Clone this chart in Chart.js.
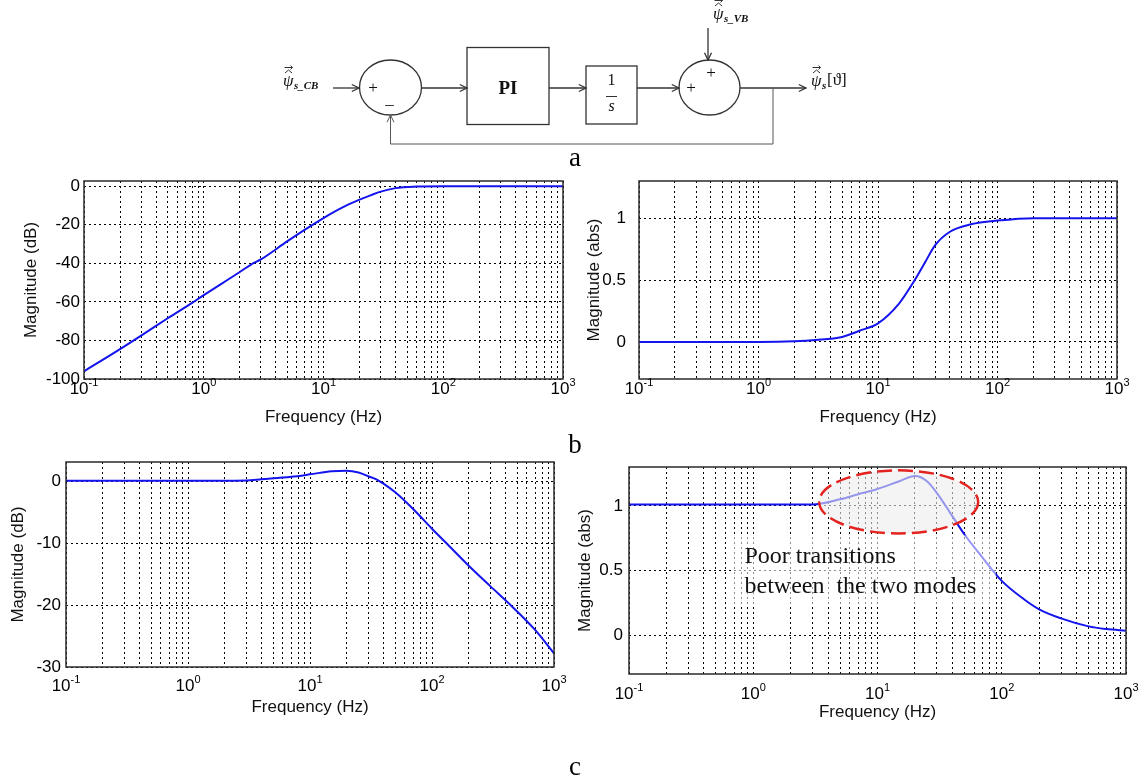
<!DOCTYPE html>
<html>
<head>
<meta charset="utf-8">
<title>Flux observer – closed-loop frequency response</title>
<script src="https://cdn.jsdelivr.net/npm/chart.js@4.4.1/dist/chart.umd.min.js"></script>
<style>
  body { margin: 0; background: #fff; }
  #page { position: relative; width: 1141px; height: 781px; overflow: hidden; background: #fff; }
  #page canvas { position: absolute; left: 0; top: 0; }
</style>
</head>
<body>
<div id="page">
  <canvas id="sketch" width="1141" height="781"></canvas>
  <canvas id="bDb" width="1141" height="781"></canvas>
  <canvas id="bAbs" width="1141" height="781"></canvas>
  <canvas id="cDb" width="1141" height="781"></canvas>
  <canvas id="cAbs" width="1141" height="781"></canvas>
</div>
<script>
// ---------- readings (Hz / dB / abs) ----------

// b: current-model branch through the PI loop
const freqB_dB = [0.1, 0.2, 0.3, 0.5, 0.8, 1, 2, 2.5, 3, 5, 7, 10, 15, 20, 25, 30, 40, 60, 100, 1000];
const magB_dB = [-96, -84.5, -77.5, -68.5, -60.5, -56.5, -44.5, -40.5, -38, -28.5, -22.5, -16.5, -10.5, -7, -4.6, -2.8, -1, -0.2, 0, 0];

const freqB_abs = [0.1, 1, 2, 3, 5, 7, 10, 15, 20, 25, 30, 40, 60, 100, 200, 1000];
const magB_abs = [0, 0, 0.005, 0.015, 0.04, 0.09, 0.15, 0.31, 0.49, 0.65, 0.78, 0.89, 0.95, 0.98, 1, 1];

// c: voltage-model branch
const freqC_dB = [0.1, 1, 3, 4, 7, 10, 15, 20, 25, 30, 35, 40, 50, 70, 100, 129, 200, 300, 442, 700, 1000];
const magC_dB = [0.15, 0.15, 0.2, 0.4, 0.8, 1.2, 1.7, 1.8, 1.5, 0.9, 0.4, -0.3, -1.7, -4.4, -7.6, -9.8, -13.6, -16.9, -20, -24, -27.8];

const freqC_abs = [0.1, 3, 5, 7, 10, 15, 20, 25, 30, 40, 50, 70, 100, 150, 200, 300, 500, 700, 1000];
const magC_abs = [1.01, 1.01, 1.05, 1.09, 1.13, 1.19, 1.23, 1.19, 1.1, 0.92, 0.78, 0.6, 0.42, 0.28, 0.2, 0.13, 0.068, 0.047, 0.034];

// axis ticks
const decadeExp = [-1, 0, 1, 2, 3];
const mantissas = [1, 2, 3, 4, 5, 6, 7, 8, 9];
const ticksB_dB = [-100, -80, -60, -40, -20, 0];
const ticksC_dB = [-30, -20, -10, 0];
const ticksAbs = [0, 0.5, 1];

// annotation on c (abs): ring centre [Hz, abs], half-span [decades, abs]
const ringCentre = [14.8, 1.03];
const ringSpan = [0.64, 0.244];
const noteBand = [0.67, 89.5, 0.772, 0.226];   // Hz from, Hz to, abs top, abs bottom
const noteAt = [0.85, 0.561];
const noteLines = ['Poor transitions', 'between  the two modes'];

// ---------- shared styling ----------
const W = 1141, H = 781;
const SANS = '"Liberation Sans", Arial, Helvetica, sans-serif';
const SERIF = '"Liberation Serif", "Times New Roman", Times, serif';
const axisFont = { family: SANS, size: 17 };
const LINE_H = 17 * 1.2;

const gridFreqs = decadeExp.flatMap(n =>
  n < 3 ? mantissas.map(m => +(m * Math.pow(10, n)).toPrecision(3)) : [Math.pow(10, n)]
);

function powerLabel(ctx, cx, cy, n) {
  ctx.font = `17px ${SANS}`;
  const w1 = ctx.measureText('10').width;
  ctx.font = `11px ${SANS}`;
  const w2 = ctx.measureText(String(n)).width;
  const x0 = cx - (w1 + w2) / 2;
  ctx.textAlign = 'left';
  ctx.textBaseline = 'middle';
  ctx.font = `17px ${SANS}`;
  ctx.fillText('10', x0, cy);
  ctx.font = `11px ${SANS}`;
  ctx.fillText(String(n), x0 + w1, cy - 6);
}

// box round the plot area plus 10^n decade labels
const frame = {
  id: 'frame',
  afterDraw(chart, args, opts) {
    const { ctx, chartArea: a, scales: { x } } = chart;
    ctx.save();
    ctx.strokeStyle = '#2a2a2a';
    ctx.lineWidth = 1.5;
    ctx.strokeRect(a.left, a.top, a.right - a.left, a.bottom - a.top);
    ctx.fillStyle = '#000';
    decadeExp.forEach(n => powerLabel(ctx, x.getPixelForValue(Math.pow(10, n)), opts.labelY, n));
    ctx.restore();
  }
};

// dashed ring and caption over the resonance of the voltage-model branch
const modesNote = {
  id: 'modesNote',
  afterDatasetsDraw(chart) {
    const { ctx, scales: { x, y } } = chart;
    ctx.save();
    const bx0 = x.getPixelForValue(noteBand[0]), bx1 = x.getPixelForValue(noteBand[1]);
    const by0 = y.getPixelForValue(noteBand[2]), by1 = y.getPixelForValue(noteBand[3]);
    ctx.fillStyle = 'rgba(255,255,255,0.55)';
    ctx.fillRect(bx0, by0, bx1 - bx0, by1 - by0);

    const k = Math.pow(10, ringSpan[0]);
    const cx = x.getPixelForValue(ringCentre[0]);
    const cy = y.getPixelForValue(ringCentre[1]);
    const rx = (x.getPixelForValue(ringCentre[0] * k) - x.getPixelForValue(ringCentre[0] / k)) / 2;
    const ry = Math.abs(y.getPixelForValue(ringCentre[1] - ringSpan[1]) - y.getPixelForValue(ringCentre[1] + ringSpan[1])) / 2;
    ctx.beginPath();
    ctx.ellipse(cx, cy, rx, ry, 0, 0, Math.PI * 2);
    ctx.fillStyle = 'rgba(236,236,236,0.6)';
    ctx.fill();
    ctx.setLineDash([15, 6]);
    ctx.strokeStyle = '#e3231f';
    ctx.lineWidth = 2.5;
    ctx.stroke();

    ctx.setLineDash([]);
    ctx.fillStyle = '#111';
    ctx.font = `24px ${SERIF}`;
    ctx.textAlign = 'left';
    ctx.textBaseline = 'alphabetic';
    const tx = x.getPixelForValue(noteAt[0]), ty = y.getPixelForValue(noteAt[1]);
    noteLines.forEach((t, i) => ctx.fillText(t, tx, ty + i * 30));
    ctx.restore();
  }
};

function bodePanel(id, box, yMin, yMax, yTicks, yTitle, freq, vals, extra) {
  const scaleLeft = box.titleX - LINE_H / 2;
  const scaleBottom = box.titleY + LINE_H / 2;
  return new Chart(document.getElementById(id), {
    type: 'line',
    data: {
      datasets: [{
        data: freq.map((f, i) => ({ x: f, y: vals[i] })),
        borderColor: '#1414ee',
        borderWidth: 2,
        pointRadius: 0,
        cubicInterpolationMode: 'monotone',
        fill: false
      }]
    },
    options: {
      responsive: false,
      animation: false,
      devicePixelRatio: 1,
      layout: { padding: { left: scaleLeft, top: box.top, right: W - box.right, bottom: H - scaleBottom } },
      plugins: {
        legend: { display: false },
        tooltip: { enabled: false },
        frame: { labelY: box.labelY }
      },
      scales: {
        x: {
          type: 'logarithmic',
          min: 0.1,
          max: 1000,
          afterBuildTicks: s => { s.ticks = gridFreqs.map(v => ({ value: v })); },
          afterFit: s => { s.height = scaleBottom - box.bottom; },
          ticks: { display: false },
          grid: { color: '#000', lineWidth: 1, drawTicks: false },
          border: { display: false, dash: [2, 3] },
          title: { display: true, text: 'Frequency (Hz)', font: axisFont, color: '#111', padding: 0 }
        },
        y: {
          min: yMin,
          max: yMax,
          afterBuildTicks: s => { s.ticks = yTicks.map(v => ({ value: v })); },
          afterFit: s => { s.width = box.left - scaleLeft; },
          ticks: { font: axisFont, color: '#000', padding: box.gap, callback: v => String(v) },
          grid: { color: '#000', lineWidth: 1, drawTicks: false },
          border: { display: false, dash: [2, 3] },
          title: { display: true, text: yTitle, font: axisFont, color: '#111', padding: 0 }
        }
      }
    },
    plugins: [frame].concat(extra || [])
  });
}

bodePanel('bDb', { left: 84, right: 563, top: 181, bottom: 379, titleX: 31, titleY: 417, labelY: 389, gap: 4 },
  -100, 2.7, ticksB_dB, 'Magnitude (dB)', freqB_dB, magB_dB);
bodePanel('bAbs', { left: 639, right: 1117, top: 181, bottom: 379, titleX: 594, titleY: 417, labelY: 389, gap: 13 },
  -0.3, 1.3, ticksAbs, 'Magnitude (abs)', freqB_abs, magB_abs);
bodePanel('cDb', { left: 66, right: 554, top: 462, bottom: 667, titleX: 18.5, titleY: 707, labelY: 686, gap: 5 },
  -30, 3.2, ticksC_dB, 'Magnitude (dB)', freqC_dB, magC_dB);
bodePanel('cAbs', { left: 629, right: 1126, top: 467, bottom: 674, titleX: 585, titleY: 712, labelY: 694, gap: 6 },
  -0.3, 1.3, ticksAbs, 'Magnitude (abs)', freqC_abs, magC_abs, [modesNote]);

// ---------- loop sketch (a) and panel letters ----------
function openHead(ctx, x, y, ang) {
  const L = 8, s = 0.45;
  ctx.beginPath();
  ctx.moveTo(x - L * Math.cos(ang - s), y - L * Math.sin(ang - s));
  ctx.lineTo(x, y);
  ctx.lineTo(x - L * Math.cos(ang + s), y - L * Math.sin(ang + s));
  ctx.stroke();
}

function wire(ctx, pts, head) {
  ctx.beginPath();
  ctx.moveTo(pts[0][0], pts[0][1]);
  pts.slice(1).forEach(p => ctx.lineTo(p[0], p[1]));
  ctx.stroke();
  if (head) {
    const a = pts[pts.length - 2], b = pts[pts.length - 1];
    openHead(ctx, b[0], b[1], Math.atan2(b[1] - a[1], b[0] - a[0]));
  }
}

function psiHat(ctx, x, y, sub) {
  ctx.textAlign = 'left';
  ctx.textBaseline = 'alphabetic';
  ctx.font = `italic 17px ${SERIF}`;
  ctx.fillText('ψ', x, y);
  const cx = x + 5.5, top = y - 13;
  ctx.lineWidth = 1;
  ctx.beginPath();
  ctx.moveTo(cx - 3.5, top); ctx.lineTo(cx, top - 3); ctx.lineTo(cx + 3.5, top);
  ctx.moveTo(cx - 4, top - 5.5); ctx.lineTo(cx + 4, top - 5.5);
  ctx.moveTo(cx + 2, top - 7.5); ctx.lineTo(cx + 4, top - 5.5); ctx.lineTo(cx + 2, top - 3.5);
  ctx.stroke();
  ctx.font = `italic bold 11px ${SERIF}`;
  ctx.fillText(sub, x + 11, y + 3);
}

function drawSketch() {
  const ctx = document.getElementById('sketch').getContext('2d');
  ctx.save();
  ctx.strokeStyle = '#333';
  ctx.fillStyle = '#111';
  ctx.lineWidth = 1.3;
  const ym = 88;

  // summing junctions and blocks
  ctx.beginPath(); ctx.ellipse(390.5, 87.5, 31, 27.5, 0, 0, Math.PI * 2); ctx.stroke();
  ctx.beginPath(); ctx.ellipse(709.5, 87.5, 30.5, 27.5, 0, 0, Math.PI * 2); ctx.stroke();
  ctx.strokeRect(467, 47.5, 82, 77);
  ctx.strokeRect(586, 66, 51, 58);

  // forward path
  wire(ctx, [[333, ym], [359, ym]], true);
  wire(ctx, [[422, ym], [467, ym]], true);
  wire(ctx, [[549, ym], [586, ym]], true);
  wire(ctx, [[637, ym], [679, ym]], true);
  wire(ctx, [[740, ym], [806, ym]], true);
  wire(ctx, [[708, 28], [708, 60]], true);
  // feedback
  ctx.lineWidth = 1;
  ctx.strokeStyle = '#555';
  wire(ctx, [[773, ym], [773, 144], [390.5, 144], [390.5, 115]], true);

  // block text
  ctx.strokeStyle = '#333';
  ctx.textAlign = 'center';
  ctx.textBaseline = 'middle';
  ctx.font = `bold 19px ${SERIF}`;
  ctx.fillText('PI', 508, 89);
  ctx.font = `16px ${SERIF}`;
  ctx.fillText('1', 611.5, 81);
  ctx.beginPath(); ctx.moveTo(606, 96.5); ctx.lineTo(617, 96.5); ctx.stroke();
  ctx.font = `italic 16px ${SERIF}`;
  ctx.fillText('s', 611.5, 107);
  ctx.font = `17px ${SERIF}`;
  ctx.fillText('+', 373, 89);
  ctx.fillText('–', 389.5, 105);
  ctx.fillText('+', 691, 89);
  ctx.fillText('+', 711, 74);

  // signal names
  psiHat(ctx, 283, 86, 's_CB');
  psiHat(ctx, 713, 19, 's_VB');
  psiHat(ctx, 811, 86, 's');
  ctx.font = `17px ${SERIF}`;
  ctx.fillText('[ϑ]', 827, 85);

  // panel letters
  ctx.font = `27px ${SERIF}`;
  ctx.textAlign = 'center';
  ctx.textBaseline = 'alphabetic';
  ctx.fillStyle = '#000';
  ctx.fillText('a', 575, 166);
  ctx.fillText('b', 575, 453);
  ctx.fillText('c', 575, 775);
  ctx.restore();
}

drawSketch();
</script>
</body>
</html>
